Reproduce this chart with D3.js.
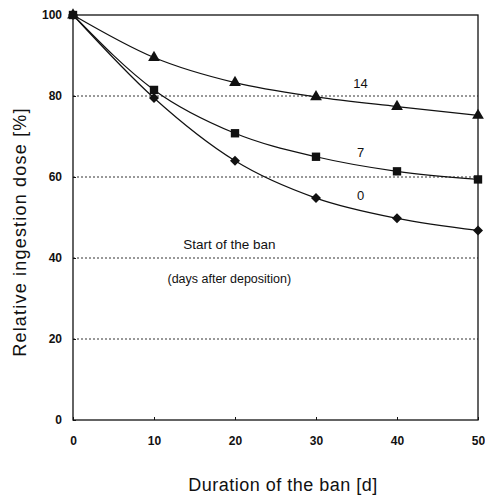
<!DOCTYPE html>
<html>
<head>
<meta charset="utf-8">
<script src="https://cdn.jsdelivr.net/npm/d3@7"></script>
<style>
  body { margin: 0; background: #fff; }
  text { font-family: "Liberation Sans", Arial, sans-serif; fill: #111; }
  .tick text { font-size: 12px; font-weight: bold; font-family: "Liberation Sans Narrow", "Liberation Sans", Arial, sans-serif; }
</style>
</head>
<body>
<svg width="485" height="495"></svg>
<script>
// days of the ban and relative dose, one array per start day
var days = [0, 10, 20, 30, 40, 50];
var start14 = [100, 89.5, 83.3, 79.8, 77.4, 75.2];
var start7 = [100, 81.5, 70.8, 65, 61.4, 59.4];
var start0 = [100, 79.5, 64, 54.8, 49.8, 46.8];
var seriesNames = ["14", "7", "0"];
var xTicks = [0, 10, 20, 30, 40, 50];
var yTicks = [0, 20, 40, 60, 80, 100];
var gridValues = [20, 40, 60, 80];

var svg = d3.select("svg");
var plotL = 73, plotR = 478, plotT = 15, plotB = 420;

var x = d3.scaleLinear().domain([0, 50]).range([plotL, plotR]);
var y = d3.scaleLinear().domain([0, 100]).range([plotB, plotT]);

// dotted grid
svg.selectAll(".grid")
  .data(gridValues)
  .join("line")
  .attr("x1", plotL).attr("x2", plotR)
  .attr("y1", d => y(d)).attr("y2", d => y(d))
  .attr("stroke", "#333")
  .attr("stroke-width", 1)
  .attr("stroke-dasharray", "2,2");

// frame
svg.append("rect")
  .attr("x", plotL).attr("y", plotT)
  .attr("width", plotR - plotL).attr("height", plotB - plotT)
  .attr("fill", "none")
  .attr("stroke", "#111")
  .attr("stroke-width", 1.3);

var xAxis = svg.append("g")
  .attr("transform", "translate(0," + plotB + ")")
  .call(d3.axisBottom(x).tickValues(xTicks).tickSize(3).tickPadding(13));
var yAxis = svg.append("g")
  .attr("transform", "translate(" + plotL + ",0)")
  .call(d3.axisLeft(y).tickValues(yTicks).tickSize(3).tickPadding(8));
[xAxis, yAxis].forEach(function (g) {
  g.select(".domain").remove();
  g.selectAll(".tick line").attr("stroke", "#111");
});
yAxis.selectAll(".tick line").attr("x2", 3);
xAxis.selectAll(".tick line").attr("y2", -3);

var series = [
  { name: "14", values: start14, symbol: d3.symbolTriangle, size: 60, rot: 0 },
  { name: "7", values: start7, symbol: d3.symbolSquare, size: 70, rot: 0 },
  { name: "0", values: start0, symbol: d3.symbolSquare, size: 50, rot: 45 }
];

var line = d3.line()
  .x((d, i) => x(days[i]))
  .y(d => y(d))
  .curve(d3.curveMonotoneX);

series.forEach(function (s) {
  svg.append("path")
    .attr("d", line(s.values))
    .attr("fill", "none")
    .attr("stroke", "#111")
    .attr("stroke-width", 1.2);
  svg.selectAll(".pt" + s.name)
    .data(s.values)
    .join("path")
    .attr("transform", (d, i) => "translate(" + x(days[i]) + "," + y(d) + ") rotate(" + s.rot + ")")
    .attr("d", d3.symbol().type(s.symbol).size(s.size))
    .attr("fill", "#111");
});

// curve labels
var labelPos = [[35.5, 82], [35.5, 65], [35.5, 54.3]];
svg.selectAll(".lab")
  .data(seriesNames)
  .join("text")
  .attr("x", (d, i) => x(labelPos[i][0]))
  .attr("y", (d, i) => y(labelPos[i][1]))
  .attr("text-anchor", "middle")
  .attr("font-size", 13)
  .text(d => d);

svg.append("text")
  .attr("x", x(19.3)).attr("y", y(42.3))
  .attr("text-anchor", "middle")
  .attr("font-size", 13.5)
  .text("Start of the ban");
svg.append("text")
  .attr("x", x(19.3)).attr("y", y(33.8))
  .attr("text-anchor", "middle")
  .attr("font-size", 12.5)
  .text("(days after deposition)");

svg.append("text")
  .attr("x", 283).attr("y", 491)
  .attr("text-anchor", "middle")
  .attr("font-size", 18)
  .attr("letter-spacing", 0.5)
  .text("Duration of the ban [d]");
svg.append("text")
  .attr("transform", "translate(26,232) rotate(-90)")
  .attr("text-anchor", "middle")
  .attr("font-size", 18)
  .attr("letter-spacing", 1.2)
  .text("Relative ingestion dose [%]");
</script>
</body>
</html>
